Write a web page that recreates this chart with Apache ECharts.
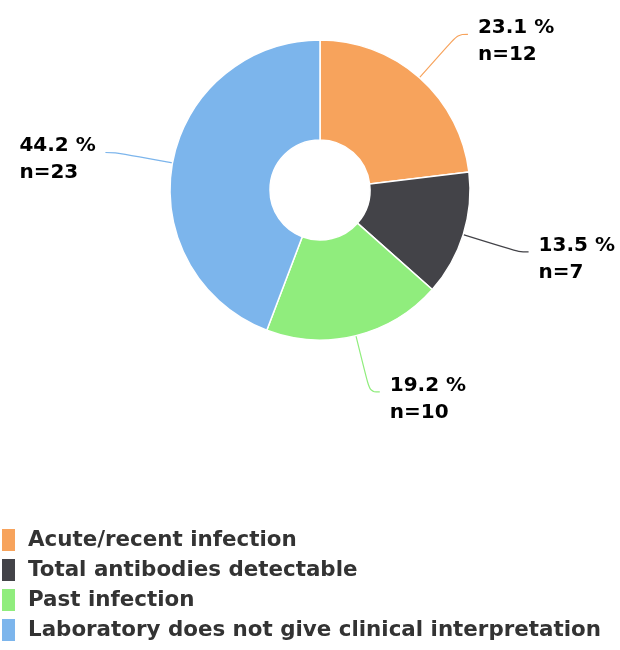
<!DOCTYPE html>
<html>
<head>
<meta charset="utf-8">
<script src="https://cdn.jsdelivr.net/npm/echarts@6/dist/echarts.min.js"></script>
<style>html,body{margin:0;padding:0;background:#fff;}#c{width:620px;height:650px;}</style>
</head>
<body>
<div id="c"></div>
<script>
const categories = ['Acute/recent infection', 'Total antibodies detectable', 'Past infection', 'Laboratory does not give clinical interpretation'];
const counts = [12, 7, 10, 23];
const percents = [23.1, 13.5, 19.2, 44.2];
const colors = ['#f7a35c', '#434348', '#90ed7d', '#7cb5ec'];

const chart = echarts.init(document.getElementById('c'));
chart.setOption({
  animation: false,
  color: colors,
  legend: {
    orient: 'vertical',
    left: 0,
    top: 527,
    padding: 0,
    height: 200,
    itemWidth: 15,
    itemHeight: 24,
    itemGap: 4,
    icon: 'rect',
    textStyle: { fontFamily: 'DejaVu Sans', fontSize: 21.4, fontWeight: 'bold', color: '#333333', lineHeight: 24, padding: [0, 0, 0, 7] },
    data: categories
  },
  series: [{
    type: 'pie',
    center: [320, 190],
    radius: [50, 150],
    startAngle: 90,
    clockwise: true,
    avoidLabelOverlap: false,
    itemStyle: { borderColor: '#ffffff', borderWidth: 1.5 },
    label: {
      show: true,
      formatter: function (p) { return '{a|' + percents[p.dataIndex] + ' %}\n{a|n=' + counts[p.dataIndex] + '}'; },
      padding: [14, 0, 0, 0],
      distanceToLabelLine: 10,
      rich: {
        a: {
          width: 76,
          align: 'left',
          fontFamily: 'DejaVu Sans',
          fontWeight: 'bold',
          fontSize: 20,
          lineHeight: 27,
          color: '#000000'
        }
      }
    },
    labelLine: { show: true, length: 58, length2: 10, smooth: 0.4, lineStyle: { width: 1.2 } },
    data: categories.map((c, i) => ({ name: c, value: counts[i] }))
  }]
});
</script>
</body>
</html>
